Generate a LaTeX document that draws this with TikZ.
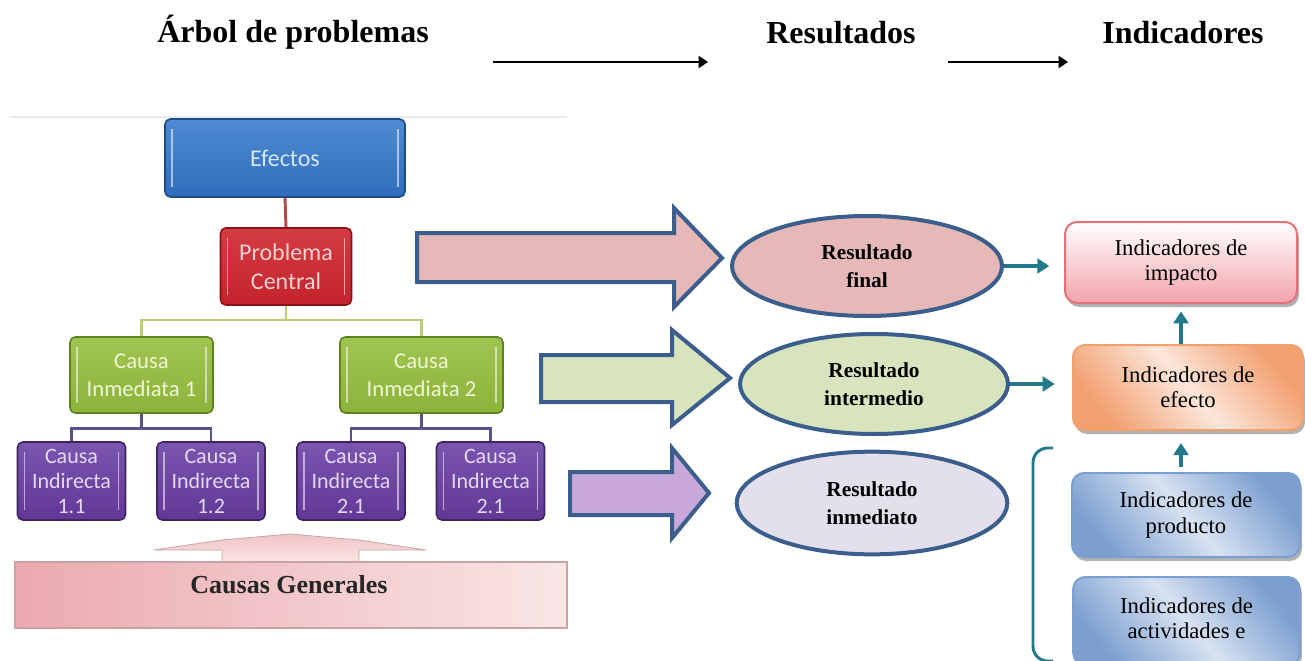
\documentclass[tikz,border=0pt]{standalone}
\usepackage{fontspec}
\setmainfont{Liberation Serif}
\newfontfamily\treefont{Carlito}
\usetikzlibrary{arrows.meta,shapes.geometric,shadows,calc}
\definecolor{efblue}{HTML}{2F6DBB}
\definecolor{efbluelt}{HTML}{4F8BD3}
\definecolor{efbluedk}{HTML}{1D4B85}
\definecolor{efbluetx}{HTML}{D4E6F8}
\definecolor{pcred}{HTML}{C4232B}
\definecolor{pcredlt}{HTML}{D43C43}
\definecolor{pcreddk}{HTML}{8A1218}
\definecolor{pcredtx}{HTML}{F6D2D2}
\definecolor{cigreen}{HTML}{8CB33A}
\definecolor{cigreenlt}{HTML}{A0C452}
\definecolor{cigreendk}{HTML}{5F8220}
\definecolor{cigreentx}{HTML}{EEF6D6}
\definecolor{cipurple}{HTML}{623896}
\definecolor{cipurplelt}{HTML}{7A55AE}
\definecolor{cipurpledk}{HTML}{3E2463}
\definecolor{cipurpletx}{HTML}{E4D8F4}
\definecolor{lnred}{HTML}{B5474B}
\definecolor{lngreen}{HTML}{B9CD72}
\definecolor{lnpurple}{HTML}{5D4E8C}
\definecolor{barrow}{HTML}{3B5E8C}
\definecolor{pinkfill}{HTML}{E6B8B7}
\definecolor{greenfill}{HTML}{D7E4BD}
\definecolor{purplefill}{HTML}{C8A8DA}
\definecolor{lavfill}{HTML}{E4DFEC}
\definecolor{tealc}{HTML}{21798A}
\definecolor{impborder}{HTML}{E4707A}
\definecolor{impfill}{HTML}{F2A3AA}
\definecolor{effborder}{HTML}{F1A16E}
\definecolor{efforange}{HTML}{F2A070}
\definecolor{efflight}{HTML}{FCE6DA}
\definecolor{prodborder}{HTML}{7B9FD0}
\definecolor{prodblue}{HTML}{7C9FD0}
\definecolor{prodlight}{HTML}{D7E2F1}
\definecolor{cgpink}{HTML}{EBA9AE}
\definecolor{cglight}{HTML}{F9E6E6}
\definecolor{cgborder}{HTML}{C9A3A3}
\tikzset{
  treebox/.style={rounded corners=4pt, line width=1.2pt, align=center, inner sep=0pt,
    path picture={
      \draw[white, opacity=.55, line width=1.4pt]
        ($(path picture bounding box.north west)+(7,10)$) -- ($(path picture bounding box.south west)+(7,-10)$);
      \draw[white, opacity=.55, line width=1.4pt]
        ($(path picture bounding box.north east)+(-7,10)$) -- ($(path picture bounding box.south east)+(-7,-10)$);
    }},
  efbox/.style={treebox, draw=efbluedk, top color=efbluelt, bottom color=efblue, text=efbluetx,
    font=\treefont\fontsize{18}{21}\selectfont},
  pcbox/.style={treebox, draw=pcreddk, top color=pcredlt, bottom color=pcred, text=pcredtx,
    font=\treefont\fontsize{18}{21.75}\selectfont},
  cibox/.style={treebox, draw=cigreendk, top color=cigreenlt, bottom color=cigreen, text=cigreentx,
    font=\treefont\fontsize{17}{21}\selectfont, minimum height=57pt},
  cindbox/.style={treebox, draw=cipurpledk, top color=cipurplelt, bottom color=cipurple, text=cipurpletx,
    font=\treefont\fontsize{16.5}{18.75}\selectfont, minimum width=81pt, minimum height=58.5pt},
  blockarrow/.style={draw=barrow, line width=3pt, line join=miter},
  resnode/.style={ellipse, draw=barrow, line width=3pt, inner sep=0pt, align=center,
    font=\bfseries\fontsize{16}{21}\selectfont},
  tealarr/.style={draw=tealc, line width=2.4pt, -{Triangle[length=9pt,width=11pt]}},
  topar/.style={line width=1.5pt, -{Triangle[length=7pt,width=9pt]}},
  indbox/.style={rounded corners=9pt, line width=1.5pt, align=center, inner sep=0pt,
    font=\fontsize{17}{19}\selectfont,
    drop shadow={shadow xshift=1.5pt, shadow yshift=-3pt, fill=black!55, opacity=0.55}},
  title/.style={anchor=base, font=\bfseries\fontsize{24}{28}\selectfont},
}
\begin{document}
\begin{tikzpicture}[x=0.75pt,y=-0.75pt]
\useasboundingbox (0,0) rectangle (1305,660);
\clip (0,0) rectangle (1305,660);

% titles
\node[title] (t1) at (293,43) {Árbol de problemas};
\node[title] (t2) at (841,44) {Resultados};
\node[title] (t3) at (1183,44) {Indicadores};
\coordinate (a1s) at (493,62);
\coordinate (a1e) at (708,62);
\coordinate (a2s) at (948,62);
\coordinate (a2e) at (1068,62);
\draw[topar] (a1s) -- (a1e);
\draw[topar] (a2s) -- (a2e);

% faint top edge of the tree picture
\draw[black!8, line width=1.5pt] (10,117) -- (567,117);

% problem tree
\node[efbox, minimum width=180pt, minimum height=58.5pt] (ef) at (285,158) {Efectos};
\node[pcbox, minimum width=98.25pt, minimum height=57.75pt] (pc) at (286,266.5) {Problema\\Central};
\node[cibox, minimum width=107.25pt] (ci1) at (141.5,375) {Causa\\Inmediata 1};
\node[cibox, minimum width=122.25pt] (ci2) at (421.5,375) {Causa\\Inmediata 2};
\node[cindbox] (b11) at (71.5,481) {Causa\\Indirecta\\1.1};
\node[cindbox] (b12) at (211,481) {Causa\\Indirecta\\1.2};
\node[cindbox] (b21) at (351,481) {Causa\\Indirecta\\2.1};
\node[cindbox] (b22) at (490.5,481) {Causa\\Indirecta\\2.1};

\draw[lnred, line width=2.2pt] (ef.south) -- (pc.north);
\coordinate (gj) at (286,320);
\draw[lngreen, line width=2.2pt] (pc.south) -- (gj);
\draw[lngreen, line width=2.2pt] (ci1.north) |- (gj) -| (ci2.north);
\draw[lnpurple, line width=2pt] (ci1.south) -- ++(0,15);
\draw[lnpurple, line width=2pt] (b11.north) |- ($(ci1.south)+(0,15)$) -| (b12.north);
\draw[lnpurple, line width=2pt] (ci2.south) -- ++(0,15);
\draw[lnpurple, line width=2pt] (b21.north) |- ($(ci2.south)+(0,15)$) -| (b22.north);

% causas generales
\draw[cgborder, line width=0.6pt, top color=cgpink!70, bottom color=cglight]
  (154,550) -- (222,540) -- (290,534) -- (359,540) -- (426,550) -- (359,550) -- (359,562)
  -- (222,562) -- (222,550) -- cycle;
\node[draw=cgborder, line width=0.8pt, left color=cgpink, right color=cglight,
  minimum width=414pt, minimum height=49.5pt, inner sep=0pt] (cg) at (291,595) {};
\node[font=\bfseries\fontsize{19.5}{22}\selectfont, text=black!85] (cgt) at (289,585) {Causas Generales};

% block arrows
\draw[blockarrow, fill=pinkfill] (417,233) -- (674,233) -- (674,208) -- (722,258) -- (674,307)
  -- (674,282) -- (417,282) -- cycle;
\draw[blockarrow, fill=greenfill] (541,355) -- (672,355) -- (672,330) -- (730,378) -- (672,425)
  -- (672,402) -- (541,402) -- cycle;
\draw[blockarrow, fill=purplefill] (570,472) -- (672,472) -- (672,448) -- (709,493) -- (672,538)
  -- (672,515) -- (570,515) -- cycle;

% results
\node[resnode, fill=pinkfill, minimum width=202.5pt, minimum height=75pt] (res1) at (867,266) {Resultado\\final};
\node[resnode, fill=greenfill, minimum width=201pt, minimum height=75pt] (res2) at (874,384) {Resultado\\intermedio};
\node[resnode, fill=lavfill, minimum width=203pt, minimum height=77pt] (res3) at (872,503) {Resultado\\inmediato};

% indicators
\node[indbox, draw=impborder, top color=white, bottom color=impfill,
  minimum width=174pt, minimum height=60.75pt] (imp) at (1181,262.5) {Indicadores de\\impacto};
\node[indbox, draw=effborder, top color=efforange, bottom color=efforange, middle color=efflight,
  shading angle=-50, minimum width=172.5pt, minimum height=63.75pt] (eff) at (1188,387.5) {Indicadores de\\efecto};
\node[indbox, draw=prodborder, top color=prodblue, bottom color=prodblue, middle color=prodlight,
  shading angle=-50, minimum width=171pt, minimum height=63pt] (prod) at (1186,515) {Indicadores de\\producto};
\node[indbox, draw=prodborder, top color=prodblue, bottom color=prodblue, middle color=prodlight,
  shading angle=-50, minimum width=170pt, minimum height=66pt] (act) at (1186.5,621) {};
\node[font=\fontsize{17}{19}\selectfont, align=center] (actt) at (1186.5,618) {Indicadores de\\actividades e};

\draw[tealarr, shorten >=11pt] (res1.east) -- (res1.east -| imp.west);
\draw[tealarr, shorten >=13pt] (res2.east) -- (res2.east -| eff.west);
\draw[tealarr, shorten >=5.5pt] (eff.north -| imp.south) -- (imp.south);
\draw[tealarr, shorten <=3.5pt, shorten >=9pt] (prod.north -| imp.south) -- (eff.south -| imp.south);

% bracket
\coordinate (brt) at (1053,448);
\coordinate (brb) at (1053,661);
\draw[tealc, line width=2.2pt, rounded corners=11pt] (brt) -- (1033,448) -- (1033,661) -- (brb);
\end{tikzpicture}
\end{document}
